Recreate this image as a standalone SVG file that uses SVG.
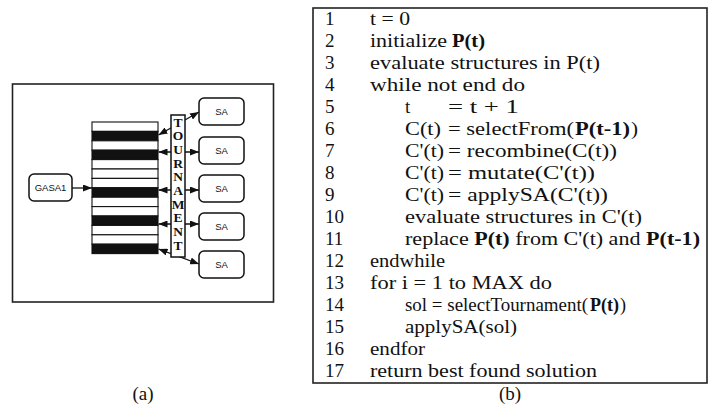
<svg xmlns="http://www.w3.org/2000/svg" width="708" height="410" viewBox="0 0 708 410">
<defs>
<style>
.frame{fill:none;stroke:#222;stroke-width:1.6}
.box{fill:#fff;stroke:#111;stroke-width:1.5}
.sw{fill:#fff;stroke:#111;stroke-width:1.1}
.sb{fill:#111;stroke:#111;stroke-width:1.1}
.lbl{font-family:"Liberation Sans",Arial,sans-serif;font-size:9.5px;fill:#111;text-anchor:middle}
.tl{font-family:"Liberation Serif","Times New Roman",serif;font-size:13.5px;font-weight:bold;fill:#111;text-anchor:middle}
.code{font-family:"Liberation Serif","Times New Roman",serif;font-size:19px;fill:#111}
.b{font-weight:bold}
.cap{font-family:"Liberation Serif","Times New Roman",serif;font-size:19px;fill:#111;text-anchor:middle}
.con{stroke:#111;stroke-width:1.3;fill:none}
</style>
<marker id="ah" viewBox="0 0 9 7" refX="9" refY="3.5" markerWidth="9" markerHeight="7" markerUnits="userSpaceOnUse" orient="auto-start-reverse">
<path d="M0,0 L9,3.5 L0,7 z" fill="#111"/>
</marker>
</defs>
<rect width="708" height="410" fill="#fff"/>

<!-- panel (a) -->
<rect class="frame" x="12.5" y="84" width="261" height="218"/>

<g id="connectors">
<line class="con" x1="72" y1="188" x2="92" y2="188" marker-end="url(#ah)"/>
<line class="con" x1="158.5" y1="135" x2="199" y2="112" marker-start="url(#ah)" marker-end="url(#ah)"/>
<line class="con" x1="158.5" y1="152" x2="199" y2="152" marker-start="url(#ah)" marker-end="url(#ah)"/>
<line class="con" x1="158.5" y1="190" x2="199" y2="190" marker-start="url(#ah)" marker-end="url(#ah)"/>
<line class="con" x1="158.5" y1="224" x2="199" y2="224" marker-start="url(#ah)" marker-end="url(#ah)"/>
<line class="con" x1="158.5" y1="249" x2="199" y2="264" marker-start="url(#ah)" marker-end="url(#ah)"/>
</g>

<g id="gasa1">
<rect class="box" x="29" y="174" width="43" height="27" rx="5"/>
<text class="lbl" x="50.5" y="191">GASA1</text>
</g>

<g id="population">
<rect class="sw" x="92" y="122" width="66" height="9.4"/>
<rect class="sb" x="92" y="131.4" width="66" height="9.4"/>
<rect class="sw" x="92" y="140.8" width="66" height="9.4"/>
<rect class="sb" x="92" y="150.2" width="66" height="9.4"/>
<rect class="sw" x="92" y="159.6" width="66" height="9.4"/>
<rect class="sw" x="92" y="169" width="66" height="9.4"/>
<rect class="sw" x="92" y="178.4" width="66" height="9.4"/>
<rect class="sb" x="92" y="187.8" width="66" height="9.4"/>
<rect class="sw" x="92" y="197.2" width="66" height="9.4"/>
<rect class="sw" x="92" y="206.6" width="66" height="9.4"/>
<rect class="sb" x="92" y="216" width="66" height="9.4"/>
<rect class="sw" x="92" y="225.4" width="66" height="9.4"/>
<rect class="sw" x="92" y="234.8" width="66" height="9.4"/>
<rect class="sb" x="92" y="244.2" width="66" height="9.4"/>
</g>

<g id="tournament">
<rect class="box" x="171" y="115" width="14" height="142"/>
<text class="tl" x="178" y="126.5">T</text>
<text class="tl" x="178" y="140.2">O</text>
<text class="tl" x="178" y="153.9">U</text>
<text class="tl" x="178" y="167.6">R</text>
<text class="tl" x="178" y="181.3">N</text>
<text class="tl" x="178" y="195">A</text>
<text class="tl" x="178" y="208.7">M</text>
<text class="tl" x="178" y="222.4">E</text>
<text class="tl" x="178" y="236.1">N</text>
<text class="tl" x="178" y="249.8">T</text>
</g>

<g id="sa1"><rect class="box" x="199" y="98" width="45" height="27" rx="5"/><text class="lbl" x="221.5" y="115">SA</text></g>
<g id="sa2"><rect class="box" x="199" y="137" width="45" height="27" rx="5"/><text class="lbl" x="221.5" y="154">SA</text></g>
<g id="sa3"><rect class="box" x="199" y="175" width="45" height="27" rx="5"/><text class="lbl" x="221.5" y="192">SA</text></g>
<g id="sa4"><rect class="box" x="199" y="213" width="45" height="27" rx="5"/><text class="lbl" x="221.5" y="230">SA</text></g>
<g id="sa5"><rect class="box" x="199" y="251" width="45" height="27" rx="5"/><text class="lbl" x="221.5" y="268">SA</text></g>

<text class="cap" x="143" y="400">(a)</text>

<!-- panel (b) -->
<g id="algorithm">
<rect class="frame" x="313" y="8" width="394" height="375"/>
<g class="code">
<text x="325" y="24.5">1</text>
<text x="325" y="46.5">2</text>
<text x="325" y="68.6">3</text>
<text x="325" y="90.6">4</text>
<text x="325" y="112.6">5</text>
<text x="325" y="134.7">6</text>
<text x="325" y="156.7">7</text>
<text x="325" y="178.7">8</text>
<text x="325" y="200.7">9</text>
<text x="325" y="222.8">10</text>
<text x="325" y="244.8">11</text>
<text x="325" y="266.8">12</text>
<text x="325" y="288.9">13</text>
<text x="325" y="310.9">14</text>
<text x="325" y="332.9">15</text>
<text x="325" y="354.9">16</text>
<text x="325" y="377">17</text>

<text x="370" y="24.5" textLength="40" lengthAdjust="spacingAndGlyphs">t = 0</text>
<text x="370" y="46.5" textLength="77" lengthAdjust="spacingAndGlyphs">initialize</text>
<text class="b" x="452" y="46.5" textLength="33" lengthAdjust="spacingAndGlyphs">P(t)</text>
<text x="370" y="68.6" textLength="230" lengthAdjust="spacingAndGlyphs">evaluate structures in P(t)</text>
<text x="370" y="90.6" textLength="155" lengthAdjust="spacingAndGlyphs">while not end do</text>
<text x="405" y="112.6">t</text>
<text x="448" y="112.6" textLength="71" lengthAdjust="spacingAndGlyphs">= t + 1</text>
<text x="405" y="134.7" textLength="36" lengthAdjust="spacingAndGlyphs">C(t)</text>
<text x="448" y="134.7" textLength="126" lengthAdjust="spacingAndGlyphs">= selectFrom(</text>
<text class="b" x="575" y="134.7" textLength="55" lengthAdjust="spacingAndGlyphs">P(t-1)</text>
<text x="631" y="134.7" textLength="7" lengthAdjust="spacingAndGlyphs">)</text>
<text x="405" y="156.7" textLength="39" lengthAdjust="spacingAndGlyphs">C'(t)</text>
<text x="448" y="156.7" textLength="169" lengthAdjust="spacingAndGlyphs">= recombine(C(t))</text>
<text x="405" y="178.7" textLength="39" lengthAdjust="spacingAndGlyphs">C'(t)</text>
<text x="448" y="178.7" textLength="147" lengthAdjust="spacingAndGlyphs">= mutate(C'(t))</text>
<text x="405" y="200.7" textLength="39" lengthAdjust="spacingAndGlyphs">C'(t)</text>
<text x="448" y="200.7" textLength="160" lengthAdjust="spacingAndGlyphs">= applySA(C'(t))</text>
<text x="405" y="222.8" textLength="237" lengthAdjust="spacingAndGlyphs">evaluate structures in C'(t)</text>
<text x="405" y="244.8" textLength="63.7" lengthAdjust="spacingAndGlyphs">replace</text>
<text class="b" x="474.2" y="244.8" textLength="35.5" lengthAdjust="spacingAndGlyphs">P(t)</text>
<text x="515.2" y="244.8" textLength="125.3" lengthAdjust="spacingAndGlyphs">from C'(t) and</text>
<text class="b" x="646.1" y="244.8" textLength="53.9" lengthAdjust="spacingAndGlyphs">P(t-1)</text>
<text x="370" y="266.8" textLength="75" lengthAdjust="spacingAndGlyphs">endwhile</text>
<text x="370" y="288.9" textLength="182" lengthAdjust="spacingAndGlyphs">for i = 1 to MAX do</text>
<text x="405" y="310.9" textLength="183" lengthAdjust="spacingAndGlyphs">sol = selectTournament(</text>
<text class="b" x="590" y="310.9" textLength="29" lengthAdjust="spacingAndGlyphs">P(t)</text>
<text x="620" y="310.9" textLength="6" lengthAdjust="spacingAndGlyphs">)</text>
<text x="405" y="332.9" textLength="112" lengthAdjust="spacingAndGlyphs">applySA(sol)</text>
<text x="370" y="354.9" textLength="55" lengthAdjust="spacingAndGlyphs">endfor</text>
<text x="370" y="377" textLength="227" lengthAdjust="spacingAndGlyphs">return best found solution</text>
</g>
</g>
<text class="cap" x="510" y="400">(b)</text>
</svg>
